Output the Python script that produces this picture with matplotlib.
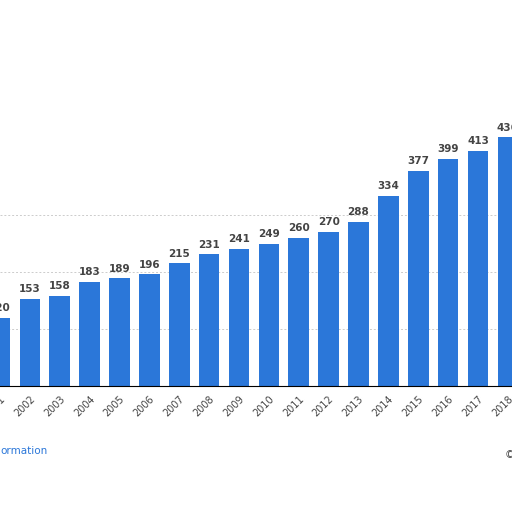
import matplotlib
matplotlib.use("Agg")
import matplotlib.pyplot as plt

years = list(range(2001, 2019))
values = [120, 153, 158, 183, 189, 196, 215, 231, 241, 249, 260, 270, 288, 334, 377, 399, 413, 436]

fig = plt.figure(figsize=(5.12, 5.12), dpi=100)
ax = fig.add_axes([0, 126/512, 1, 386/512])
ax.bar(years, values, width=0.69, color="#2b77d9", zorder=2)
ax.set_xlim(2001.3, 2018.14)
ax.set_ylim(0, 677)
for y in [100, 200, 300]:
    ax.axhline(y, color="#cccccc", lw=0.7, ls=(0, (2, 2)), zorder=1)
for x, v in zip(years, values):
    ax.text(x, v + 8, str(v), ha="center", va="bottom", fontsize=7.5, fontweight="bold", color="#444444")
for s in ["top", "right", "left"]:
    ax.spines[s].set_visible(False)
ax.spines["bottom"].set_color("black")
ax.set_yticks([])
ax.set_xticks(years)
ax.set_xticklabels([str(y) for y in years], rotation=45, ha="right", fontsize=7, color="#444444", rotation_mode="anchor")
ax.tick_params(axis="x", length=0, pad=6)
fig.text(0.0, 1 - 451/512, "ormation", color="#2b77d9", fontsize=7.5, va="center")
fig.text(0.985, 1 - 455/512, "©", color="#444444", fontsize=7.5, va="center")
fig.savefig("out.png", dpi=100)
